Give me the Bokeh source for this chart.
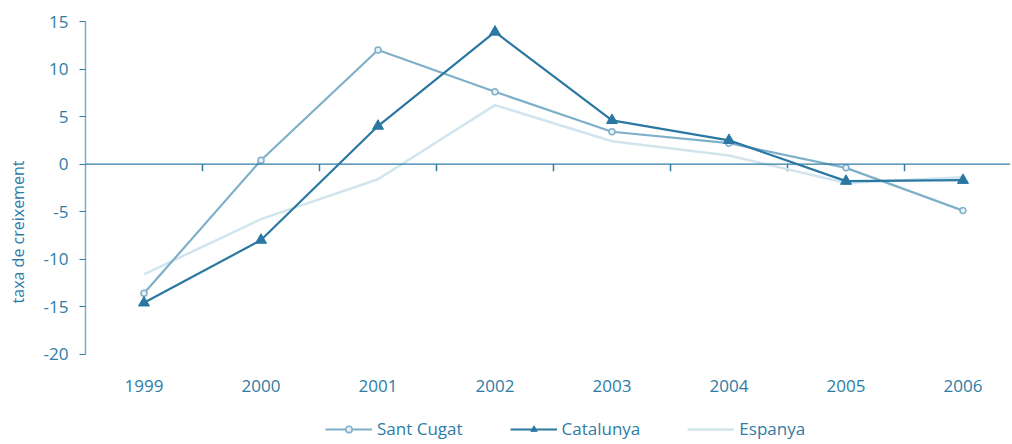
from bokeh.plotting import figure
from bokeh.models import Range1d, FixedTicker, Legend, LegendItem, Span, CustomJSTickFormatter
from bokeh.embed import file_html
from bokeh.resources import INLINE

years = [1999, 2000, 2001, 2002, 2003, 2004, 2005, 2006]
sant_cugat = [-13.6, 0.4, 12.0, 7.6, 3.4, 2.2, -0.4, -4.9]
catalunya = [-14.6, -8.0, 4.0, 13.9, 4.6, 2.5, -1.8, -1.7]
espanya = [-11.6, -5.8, -1.6, 6.2, 2.4, 0.9, -2.0, -1.4]
y_ticks = [-20, -15, -10, -5, 0, 5, 10, 15]

TXT = "#2e7ca6"
C_SC = "#7fb0c9"
C_CAT = "#2a78a2"
C_ESP = "#d2e4ed"
FONT = "Open Sans"

Y_MIN, Y_MAX = -20, 15

# frame spans to the bottom of the figure; extra room below -20 holds year labels + legend
p = figure(width=1010, height=442, output_backend="svg", toolbar_location=None,
           x_range=Range1d(1998.5, 2006.406), y_range=Range1d(-29.30, Y_MAX),
           min_border_left=85, min_border_right=0, min_border_top=21, min_border_bottom=0)
p.outline_line_color = None
p.xgrid.grid_line_color = None
p.ygrid.grid_line_color = None

# y axis
ya = p.yaxis[0]
ya.bounds = (Y_MIN, Y_MAX)
ya.ticker = FixedTicker(ticks=y_ticks)
ya.formatter = CustomJSTickFormatter(code="return tick.toString();")
ya.axis_line_color = "#7aaccb"
ya.axis_line_width = 1.5
ya.major_tick_line_color = TXT
ya.major_tick_out = 6
ya.major_tick_in = 0
ya.minor_tick_line_color = None
ya.major_label_standoff = 11
ya.major_label_text_font = FONT
ya.major_label_text_font_size = "17px"
ya.major_label_text_color = TXT
ya.axis_label = "taxa de creixement"
ya.axis_label_text_font = FONT
ya.axis_label_text_font_size = "16px"
ya.axis_label_text_font_style = "normal"
ya.axis_label_text_color = TXT
ya.axis_label_standoff = 12

# x axis (labels only, anchored at the bottom of the value range)
xa = p.xaxis[0]
xa.fixed_location = Y_MIN
xa.ticker = FixedTicker(ticks=years)
xa.axis_line_color = None
xa.major_tick_line_color = None
xa.minor_tick_line_color = None
xa.major_label_standoff = 20
xa.major_label_text_font = FONT
xa.major_label_text_font_size = "17px"
xa.major_label_text_color = TXT

# zero line and category boundary ticks
p.add_layout(Span(location=0, dimension="width", line_color=TXT, line_width=1.2))
bounds = [y + 0.5 for y in years[:-1]]
p.segment(x0=bounds, y0=[0] * len(bounds), x1=bounds, y1=[-0.75] * len(bounds),
          line_color=TXT, line_width=1.5)

r_esp = p.line(years, espanya, line_color=C_ESP, line_width=2.5)
r_sc = p.line(years, sant_cugat, line_color=C_SC, line_width=2.2)
r_sc_m = p.scatter(years, sant_cugat, marker="circle", size=6, line_color=C_SC,
                   line_width=1.5, fill_color="#e6f0f5")
r_cat = p.line(years, catalunya, line_color=C_CAT, line_width=2.2)
r_cat_m = p.scatter(years, catalunya, marker="triangle", size=11, line_color=C_CAT,
                    fill_color=C_CAT)

legend = Legend(items=[
    LegendItem(label="Sant Cugat", renderers=[r_sc, r_sc_m]),
    LegendItem(label="Catalunya", renderers=[r_cat, r_cat_m]),
    LegendItem(label="Espanya", renderers=[r_esp]),
], orientation="horizontal", location=(240, 2))
legend.border_line_color = None
legend.background_fill_alpha = 0
legend.padding = 0
legend.margin = 0
legend.spacing = 47
legend.glyph_width = 47
legend.glyph_height = 16
legend.label_height = 16
legend.label_standoff = 5
legend.label_text_font = FONT
legend.label_text_font_size = "17px"
legend.label_text_color = TXT
legend.label_text_baseline = "middle"
p.add_layout(legend, "center")

open("out.html", "w").write(file_html(p, INLINE))
